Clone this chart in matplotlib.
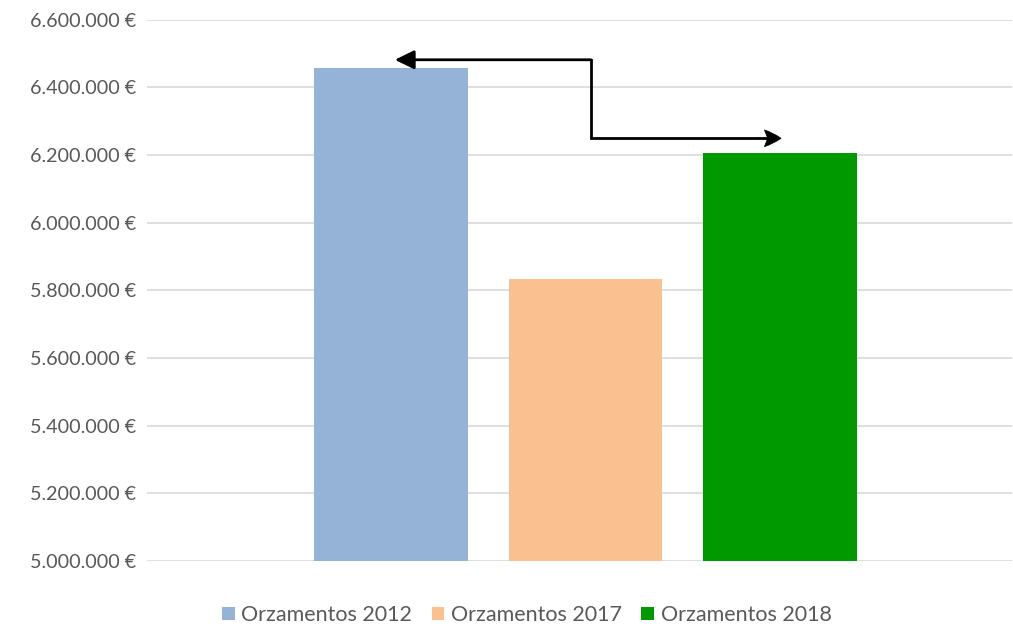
from matplotlib import pyplot as plt
from matplotlib.ticker import FuncFormatter

# Datos do grafico :
series = ["Orzamentos 2012", "Orzamentos 2017", "Orzamentos 2018"]
values = [6458000, 5834000, 6207000]
colors = ["#95B3D7", "#FAC090", "#009900"]
y_ticks = [5000000 + 200000 * i for i in range(9)]


def euro(v, pos):
    return f"{int(v):,}".replace(",", ".") + " €"


def main() -> int:
    plt.rcParams['font.family'] = ['Lato', 'DejaVu Sans']
    fig = plt.figure(figsize=(10.13, 6.28), dpi=100)
    ax = fig.add_axes([147 / 1013, 67 / 628, 865 / 1013, 541.5 / 628])

    for i, (name, val, col) in enumerate(zip(series, values, colors)):
        ax.bar(i, val - 5000000, bottom=5000000, width=0.79,
               color=col, label=name, zorder=2)

    ax.set_ylim(5000000, 6600000)
    ax.set_xlim(-1.254, 3.192)
    ax.set_yticks(y_ticks)
    ax.yaxis.set_major_formatter(FuncFormatter(euro))
    ax.set_xticks([])
    ax.grid(axis='y', color='#d9d9d9', linewidth=1.2, zorder=0)
    for s in ax.spines.values():
        s.set_visible(False)
    ax.tick_params(axis='y', length=0, pad=8, labelsize=14.2,
                   labelcolor='#595959')

    # Frecha entre 2012 e 2018 :
    y_hi, y_lo, x_mid = 6481000, 6249000, 1.028
    ax.plot([x_mid, x_mid, 1.93], [y_hi, y_lo, y_lo], color='black',
            linewidth=2, zorder=3, solid_joinstyle='miter')
    ax.annotate("", xy=(0.02, y_hi), xytext=(x_mid, y_hi),
                arrowprops=dict(arrowstyle='-|>,head_length=0.45,head_width=0.22',
                                color='black', lw=2,
                                mutation_scale=26, shrinkA=0, shrinkB=0))
    ax.annotate("", xy=(2.005, y_lo), xytext=(1.88, y_lo),
                arrowprops=dict(arrowstyle='fancy,head_length=0.5,head_width=0.5,tail_width=0.01',
                                color='black', lw=0.5,
                                mutation_scale=24, shrinkA=0, shrinkB=0))

    fig.legend(loc='lower center', ncol=3, frameon=False,
               bbox_to_anchor=(0.52, -0.026), fontsize=15.5,
               handlelength=0.6, handleheight=0.6, handletextpad=0.3,
               columnspacing=0.9, labelcolor='#595959')

    fig.savefig("out.png", dpi=100)
    return 0


if __name__ == "__main__":
    main()
